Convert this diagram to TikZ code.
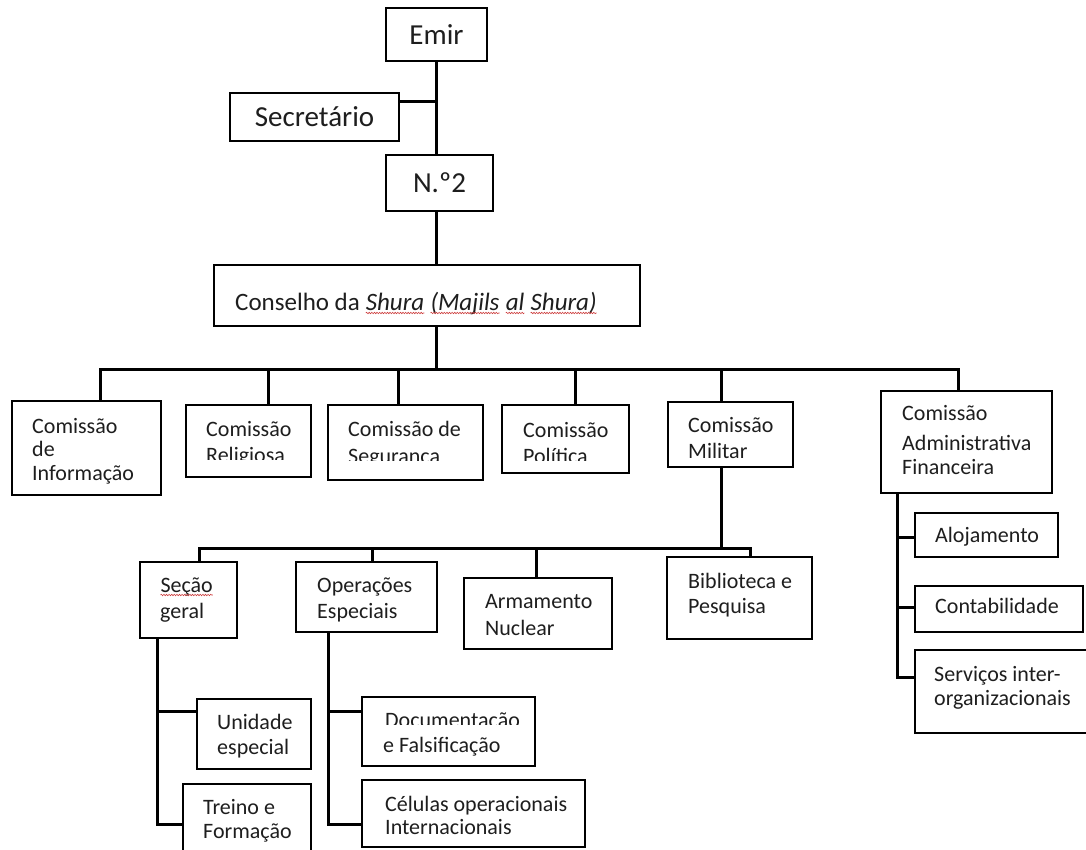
\documentclass[tikz,border=0pt]{standalone}
\usepackage{fontspec}
\setmainfont{Carlito}
\usetikzlibrary{decorations.pathmorphing}
\definecolor{ink}{RGB}{30,30,30}
\definecolor{spell}{RGB}{205,60,60}
\newcommand\smallfs[1]{\fontsize{22}{#1}\selectfont}
\newcommand\wavy[1]{\tikz[baseline=(wv.base)]{\node[inner sep=0pt,outer sep=0pt,anchor=base,draw=none,fill=none,minimum size=0pt] (wv) {#1};\draw[spell,line width=0.6pt,decorate,decoration={snake,amplitude=0.7pt,segment length=2.6pt}] ([yshift=-3pt]wv.base west) -- ([yshift=-3pt]wv.base east);}}
\tikzset{
  box/.style={draw=black,line width=1.5pt,fill=white,rectangle,inner sep=0pt},
  lbl/.style={anchor=base west,inner sep=0pt,align=left,text=ink},
  big/.style={inner sep=0pt,text=ink,font=\fontsize{29}{34}\selectfont},
  link/.style={draw=black,line width=3pt},
}
\newcommand\obox[5]{\node[box,minimum width={#4pt-#2pt},minimum height={#5pt-#3pt}] (#1) at ({(#2+#4)/2},{(#3+#5)/2}) {};}
\begin{document}
\begin{tikzpicture}[x=1pt,y=-1pt]
\useasboundingbox (0,0) rectangle (1086,850);
\clip (0,0) rectangle (1086,850);
\fill[white] (0,0) rectangle (1086,850);
% boxes
\obox{emir}{386}{8}{487}{61}
\obox{sec}{230}{93}{399}{141}
\obox{n2}{386}{155}{493}{211}
\obox{cons}{214}{265}{640}{326}
\obox{info}{12}{401}{161}{495}
\obox{reli}{186}{405}{311}{477}
\obox{segu}{328}{405}{483}{480}
\obox{poli}{502}{405}{629}{473}
\obox{mili}{668}{402}{793}{467}
\obox{admin}{881}{391}{1052}{493}
\obox{secao}{140}{562}{237}{638}
\obox{oper}{296}{562}{437}{632}
\obox{arma}{464}{578}{612}{649}
\obox{bibl}{667}{557}{812}{639}
\obox{unid}{197}{699}{311}{769}
\obox{trei}{183}{784}{311}{870}
\obox{docu}{362}{697}{535}{766}
\obox{celu}{362}{780}{585}{847}
\obox{aloj}{915}{513}{1058}{557}
\obox{cont}{915}{586}{1083}{632}
\obox{serv}{915}{650}{1100}{733}
% connectors top
\coordinate (secj) at (436.5,102);
\draw[link] (emir.south) -- (n2.north -| emir.south);
\draw[link] (sec.east |- secj) -- (secj);
\draw[link] (n2.south -| emir.south) -- (cons.north -| emir.south);
\coordinate (hub) at (436.5,369);
\draw[link] (cons.south -| hub) -- (hub);
\coordinate (bL) at (100,369);
\coordinate (bR) at (958,369);
\draw[link] (bL |- info.north) -- (bL) -- (bR) -- (bR |- admin.north);
\foreach \n/\x in {reli/268,segu/398,poli/575,mili/721}{
  \coordinate (d\n) at (\x,369);
  \draw[link] (d\n) -- (d\n |- \n.north);
}
% military
\coordinate (mj) at (721,548);
\draw[link] (mj |- mili.south) -- (mj);
\coordinate (cL) at (199,548);
\coordinate (cR) at (750,548);
\draw[link] (cL |- secao.north) -- (cL) -- (cR) -- (cR |- bibl.north);
\foreach \n/\x in {oper/372,arma/536}{
  \coordinate (e\n) at (\x,548);
  \draw[link] (e\n) -- (e\n |- \n.north);
}
\coordinate (sv) at (157,824);
\draw[link] (sv |- secao.south) -- (sv) -- (sv -| trei.west);
\coordinate (su) at (157,711);
\draw[link] (su) -- (su -| unid.west);
\coordinate (ov) at (328,824);
\draw[link] (ov |- oper.south) -- (ov) -- (ov -| celu.west);
\coordinate (od) at (328,711);
\draw[link] (od) -- (od -| docu.west);
% admin
\coordinate (av) at (897,677);
\draw[link] (av |- admin.south) -- (av) -- (av -| serv.west);
\coordinate (a1) at (897,537);
\draw[link] (a1) -- (a1 -| aloj.west);
\coordinate (a2) at (897,607);
\draw[link] (a2) -- (a2 -| cont.west);
% texts (multi-line nodes: position = baseline of last line)
\node[big] at (emir) {Emir};
\node[big] at (sec) {Secretário};
\node[big] at (n2) {N.º2};
\node[lbl,font=\fontsize{25}{30}\selectfont] (tcons) at (235,310) {Conselho da \wavy{\textit{Shura}} \wavy{\textit{(Majils}} \wavy{\textit{al}} \wavy{\textit{Shura)}}};
\node[lbl,font=\smallfs{23.5}] (tinfo) at (32,480) {Comissão\\de\\Informação};
\begin{scope}
  \clip (reli.north west) rectangle ([yshift=18pt]reli.south east);
  \node[lbl,font=\smallfs{26}] (treli) at (206,462) {Comissão\\Religiosa};
\end{scope}
\begin{scope}
  \clip (segu.north west) rectangle ([yshift=20pt]segu.south east);
  \node[lbl,font=\smallfs{27}] (tsegu) at (348,463) {Comissão de\\Segurança};
\end{scope}
\begin{scope}
  \clip (poli.north west) rectangle ([yshift=13pt]poli.south east);
  \node[lbl,font=\smallfs{26}] (tpoli) at (523,463) {Comissão\\Política};
\end{scope}
\node[lbl,font=\smallfs{26}] (tmili) at (688,458) {Comissão\\Militar};
\node[lbl,font=\smallfs{24}] (tadmin) at (902,474) {Comissão\\[6pt]Administrativa\\Financeira};
\node[lbl,font=\smallfs{26}] (tsecao) at (160,618) {\wavy{Seção}\\geral};
\node[lbl,font=\smallfs{26}] (toper) at (317,618) {Operações\\Especiais};
\node[lbl,font=\smallfs{27}] (tarma) at (485,635) {Armamento\\Nuclear};
\node[lbl,font=\smallfs{25}] (tbibl) at (688,613) {Biblioteca e\\Pesquisa};
\node[lbl,font=\smallfs{25}] (tunid) at (217,754) {Unidade\\especial};
\node[lbl,font=\smallfs{24}] (ttrei) at (203,838) {Treino e\\Formação};
\begin{scope}
  \coordinate (dclip) at (540,724);
  \clip (docu.north west) rectangle (dclip);
  \node[lbl,font=\smallfs{25}] (tdocu1) at (385,727) {Documentação};
\end{scope}
\node[lbl,font=\smallfs{25}] (tdocu2) at (383,752) {e Falsificação};
\node[lbl,font=\smallfs{23}] (tcelu) at (385,834) {Células operacionais\\Internacionais};
\node[lbl,font=\smallfs{25}] (taloj) at (935,542) {Alojamento};
\node[lbl,font=\smallfs{25}] (tcont) at (935,613) {Contabilidade};
\node[lbl,font=\smallfs{24}] (tserv) at (934,705) {Serviços inter-\\organizacionais};
\end{tikzpicture}
\end{document}
